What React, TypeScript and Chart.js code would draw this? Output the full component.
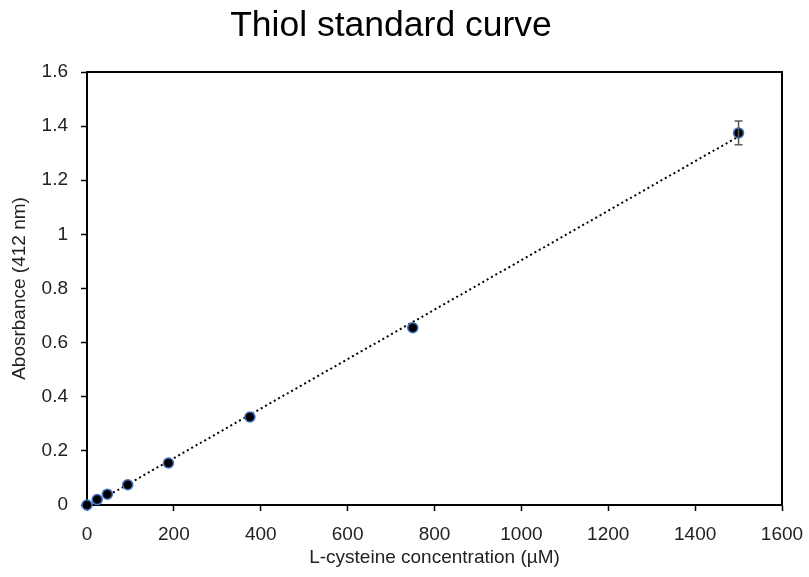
import React, { useEffect, useRef } from "react";
import { Chart, registerables } from "chart.js";

Chart.register(...registerables);

const concentrations = [0, 23.4375, 46.875, 93.75, 187.5, 375, 750, 1500];
const absorbance = [0.0, 0.02, 0.04, 0.075, 0.155, 0.325, 0.655, 1.375];
const errors = [0, 0, 0, 0, 0, 0, 0, 0.044];
const xTicks = [0, 200, 400, 600, 800, 1000, 1200, 1400, 1600];
const yTicks = [0, 0.2, 0.4, 0.6, 0.8, 1, 1.2, 1.4, 1.6];
const chartTitle = "Thiol standard curve";
const xTitle = "L-cysteine concentration (µM)";
const yTitle = "Abosrbance (412 nm)";

const FONT = "Liberation Sans, Arial, sans-serif";

function fit(xs: number[], ys: number[]) {
  const n = xs.length;
  const mx = xs.reduce((a, b) => a + b, 0) / n;
  const my = ys.reduce((a, b) => a + b, 0) / n;
  let sxy = 0, sxx = 0;
  for (let i = 0; i < n; i++) {
    sxy += (xs[i] - mx) * (ys[i] - my);
    sxx += (xs[i] - mx) ** 2;
  }
  const m = sxy / sxx;
  return { m, b: my - m * mx };
}

export default function App() {
  const ref = useRef<HTMLCanvasElement>(null);
  useEffect(() => {
    const { m, b } = fit(concentrations, absorbance);
    const xMin = concentrations[0];
    const xMax = concentrations[concentrations.length - 1];
    const trend = [
      { x: xMin, y: m * xMin + b },
      { x: xMax, y: m * xMax + b },
    ];
    const boxPlugin = {
      id: "box",
      beforeDatasetsDraw(chart: any) {
        const { ctx, chartArea } = chart;
        ctx.save();
        ctx.strokeStyle = "#000";
        ctx.lineWidth = 2;
        ctx.strokeRect(chartArea.left, chartArea.top, chartArea.right - chartArea.left, chartArea.bottom - chartArea.top);
        ctx.restore();
      },
      afterDatasetsDraw(chart: any) {
        const { ctx, scales, chartArea } = chart;
        ctx.save();
        ctx.strokeStyle = "#595959";
        ctx.lineWidth = 1.5;
        concentrations.forEach((c, i) => {
          if (!errors[i]) return;
          const px = scales.x.getPixelForValue(c);
          const top = scales.y.getPixelForValue(absorbance[i] + errors[i]);
          const bot = scales.y.getPixelForValue(absorbance[i] - errors[i]);
          ctx.beginPath();
          ctx.moveTo(px, top);
          ctx.lineTo(px, bot);
          ctx.moveTo(px - 4, top);
          ctx.lineTo(px + 4, top);
          ctx.moveTo(px - 4, bot);
          ctx.lineTo(px + 4, bot);
          ctx.stroke();
        });
        // axis titles
        ctx.fillStyle = "#222";
        ctx.font = `19px ${FONT}`;
        ctx.textAlign = "center";
        ctx.textBaseline = "middle";
        ctx.fillText(xTitle, (chartArea.left + chartArea.right) / 2, 558);
        ctx.translate(20, (chartArea.top + chartArea.bottom) / 2);
        ctx.rotate(-Math.PI / 2);
        ctx.fillText(yTitle, 0, 0);
        ctx.restore();
      },
    };
    const chart = new Chart(ref.current!, {
      type: "scatter",
      data: {
        datasets: [
          {
            label: "Absorbance",
            data: concentrations.map((c, i) => ({ x: c, y: absorbance[i] })),
            backgroundColor: "#000",
            borderColor: "#4472C4",
            borderWidth: 1.5,
            pointRadius: 5,
            clip: false,
            order: 1,
          } as any,
          {
            label: "Linear fit",
            type: "line",
            data: trend,
            borderColor: "#000",
            borderWidth: 2,
            borderDash: [2, 3],
            pointRadius: 0,
            fill: false,
            order: 2,
          } as any,
        ],
      },
      options: {
        animation: false,
        responsive: false,
        maintainAspectRatio: false,
        layout: { padding: { top: 0, right: 27, bottom: 0, left: 0 } },
        plugins: {
          legend: { display: false },
          tooltip: { enabled: false },
          title: {
            display: true,
            text: chartTitle,
            color: "#000",
            font: { family: FONT, size: 35.5, weight: "normal", lineHeight: 1.2 },
            padding: { top: 5.4, bottom: 24 },
          },
        },
        scales: {
          x: {
            type: "linear",
            min: 0,
            max: 1600,
            afterBuildTicks: (s: any) => { s.ticks = xTicks.map((v) => ({ value: v })); },
            afterFit: (s: any) => { s.height = 72; s.paddingLeft = 0; s.paddingRight = 0; },
            ticks: {
              color: "#222",
              font: { family: FONT, size: 19 },
              padding: 12,
              callback: (v: any) => String(v),
            },
            grid: { drawOnChartArea: false, color: "#000", tickLength: 6, tickWidth: 1.5 },
            border: { color: "#000", width: 2 },
          },
          y: {
            type: "linear",
            min: 0,
            max: 1.6,
            afterBuildTicks: (s: any) => { s.ticks = yTicks.map((v) => ({ value: v })); },
            afterFit: (s: any) => { s.width = 87; s.paddingTop = 0; s.paddingBottom = 0; },
            ticks: {
              color: "#222",
              font: { family: FONT, size: 19 },
              padding: 13,
              callback: (v: any) => String(Math.round(v * 10) / 10),
            },
            grid: { drawOnChartArea: false, color: "#000", tickLength: 6, tickWidth: 1.5 },
            border: { color: "#000", width: 2 },
          },
        },
      },
      plugins: [boxPlugin],
    });
    return () => chart.destroy();
  }, []);
  return (
    <div style={{ position: "fixed", left: 0, top: 0, width: 809, height: 577, background: "#fff" }}>
      <canvas ref={ref} width={809} height={577} style={{ width: 809, height: 577 }} />
    </div>
  );
}
